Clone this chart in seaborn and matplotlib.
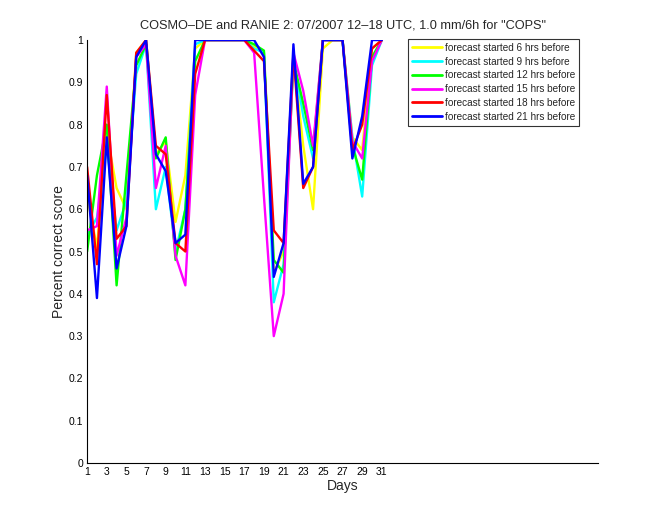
import matplotlib
matplotlib.use("Agg")
import matplotlib.pyplot as plt
import seaborn as sns
import pandas as pd
import numpy as np

days = list(range(1, 32))

series_names = [
    "forecast started 6 hrs before",
    "forecast started 9 hrs before",
    "forecast started 12 hrs before",
    "forecast started 15 hrs before",
    "forecast started 18 hrs before",
    "forecast started 21 hrs before",
]
colors = ["#ffff00", "#00ffff", "#00ff00", "#ff00ff", "#ff0000", "#0000ff"]

yellow_6h = [0.63, 0.51, 0.78, 0.65, 0.60, 0.97, 1.0, 0.73, 0.76, 0.57, 0.68, 0.98,
             1.0, 1.0, 1.0, 1.0, 1.0, 0.985, 0.97, 0.45, 0.50, 0.96, 0.75, 0.60,
             0.98, 1.0, 1.0, 0.77, 0.74, 0.98, 1.0]
cyan_9h = [0.54, 0.58, 0.75, 0.55, 0.62, 0.92, 0.99, 0.60, 0.70, 0.50, 0.60, 0.99,
           1.0, 1.0, 1.0, 1.0, 1.0, 0.98, 0.97, 0.38, 0.47, 0.96, 0.82, 0.72,
           1.0, 1.0, 1.0, 0.77, 0.63, 0.94, 1.0]
green_12h = [0.50, 0.68, 0.80, 0.42, 0.68, 0.94, 0.99, 0.72, 0.77, 0.48, 0.60, 0.95,
             1.0, 1.0, 1.0, 1.0, 1.0, 0.99, 0.975, 0.48, 0.45, 0.95, 0.85, 0.74,
             1.0, 1.0, 1.0, 0.75, 0.67, 0.96, 1.0]
magenta_15h = [0.55, 0.56, 0.89, 0.49, 0.58, 0.96, 0.99, 0.65, 0.75, 0.49, 0.42, 0.87,
               1.0, 1.0, 1.0, 1.0, 1.0, 0.97, 0.63, 0.30, 0.40, 0.97, 0.88, 0.75,
               1.0, 1.0, 1.0, 0.76, 0.72, 0.95, 1.0]
red_18h = [0.70, 0.47, 0.87, 0.53, 0.56, 0.97, 1.0, 0.75, 0.73, 0.52, 0.50, 0.92,
           1.0, 1.0, 1.0, 1.0, 1.0, 0.975, 0.95, 0.55, 0.52, 0.97, 0.65, 0.70,
           1.0, 1.0, 1.0, 0.74, 0.80, 0.98, 1.0]
blue_21h = [0.68, 0.39, 0.77, 0.46, 0.56, 0.96, 1.0, 0.73, 0.69, 0.52, 0.54, 1.0,
            1.0, 1.0, 1.0, 1.0, 1.0, 1.0, 0.96, 0.44, 0.52, 0.99, 0.66, 0.70,
            1.0, 1.0, 1.0, 0.72, 0.82, 1.0, 1.0]

all_values = [yellow_6h, cyan_9h, green_12h, magenta_15h, red_18h, blue_21h]

x_ticks = list(range(1, 32, 2))
y_ticks = [0, 0.1, 0.2, 0.3, 0.4, 0.5, 0.6, 0.7, 0.8, 0.9, 1]
y_ticklabels = ["0", "0.1", "0.2", "0.3", "0.4", "0.5", "0.6", "0.7", "0.8", "0.9", "1"]

rows = []
for name, vals in zip(series_names, all_values):
    for d, v in zip(days, vals):
        rows.append({"Days": d, "score": v, "series": name})
df = pd.DataFrame(rows)

sns.set_style("white")
plt.rcParams["font.family"] = ["Liberation Sans", "DejaVu Sans"]

fig = plt.figure(figsize=(6.6, 5.2), dpi=100)
ax = fig.add_axes([0.132, 0.1096, 0.774, 0.8134])

sns.lineplot(data=df, x="Days", y="score", hue="series", hue_order=series_names,
             palette=colors, linewidth=1.7, ax=ax, legend=True)

ax.set_xlim(1, 53)
ax.set_ylim(0, 1)
ax.set_xticks(x_ticks)
ax.set_xticklabels([str(t) for t in x_ticks], fontsize=7.5)
ax.set_yticks(y_ticks)
ax.set_yticklabels(y_ticklabels, fontsize=7.5)
ax.tick_params(direction="in", length=4, width=0.8, pad=3, colors="black")
ax.set_xlabel("Days", fontsize=10, labelpad=1)
ax.set_ylabel("Percent correct score", fontsize=10, labelpad=2)
ax.set_title('COSMO–DE and RANIE 2: 07/2007 12–18 UTC, 1.0 mm/6h for "COPS"',
             fontsize=9.2, pad=8)
for s in ["top", "right"]:
    ax.spines[s].set_visible(False)
for s in ["left", "bottom"]:
    ax.spines[s].set_color("black")
    ax.spines[s].set_linewidth(0.8)

leg = ax.legend(loc="upper right", bbox_to_anchor=(0.963, 1.003), fontsize=7.2,
                handlelength=3.0, handletextpad=0.25, labelspacing=0.38,
                borderpad=0.4, frameon=True, fancybox=False, edgecolor="black",
                borderaxespad=0)
leg.get_frame().set_linewidth(0.8)
for line in leg.get_lines():
    line.set_linewidth(2)

fig.savefig("out.png", dpi=100, facecolor="white")
